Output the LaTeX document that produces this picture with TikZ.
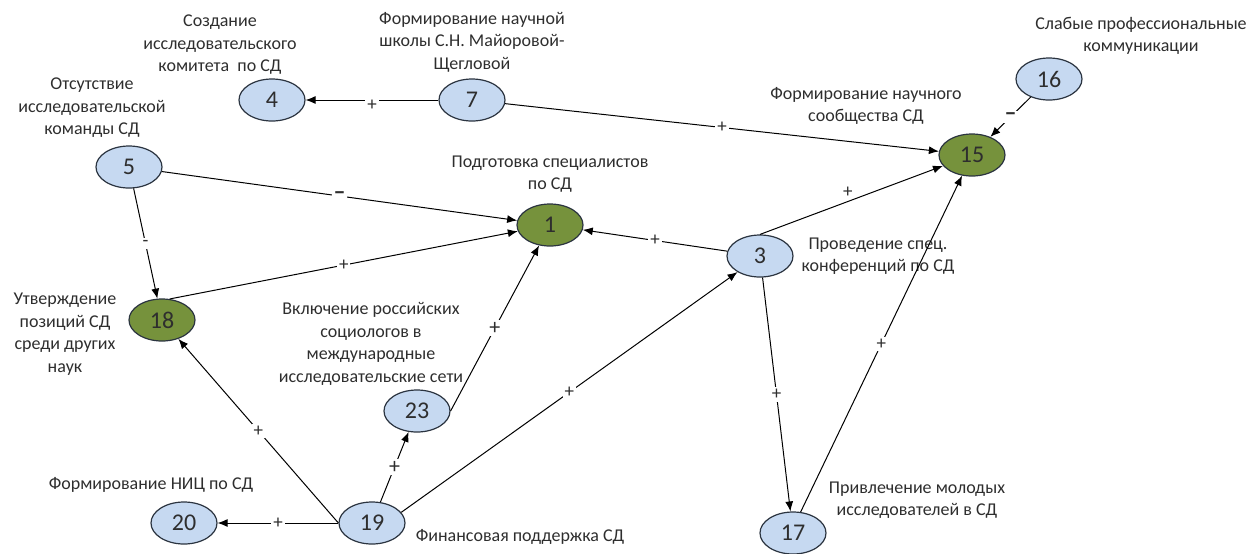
\documentclass[tikz,border=0pt]{standalone}
\usepackage{fontspec}
\setmainfont{Carlito}
\usetikzlibrary{arrows.meta,shapes.geometric}
\definecolor{nodeblue}{HTML}{C6D9F1}
\definecolor{nodegreen}{HTML}{76923C}
\definecolor{rim}{HTML}{2B3440}
\definecolor{ink}{HTML}{2E2E2E}
\tikzset{
  factor/.style={ellipse,draw=rim,fill=nodeblue,line width=0.6pt,
                 minimum width=33pt,minimum height=21pt,inner sep=0pt,
                 font=\fontsize{12}{12}\selectfont,text=ink},
  goal/.style={factor,fill=nodegreen},
  note/.style={align=center,font=\fontsize{9}{11.25}\selectfont,
               text=ink,inner sep=0pt},
  link/.style={-{Latex[length=5pt,width=4pt]},line width=0.5pt,black},
  sign/.style={fill=white,inner sep=1pt,pos=0.5,text=ink,
               font=\fontsize{9.5}{9.5}\selectfont},
  bigsign/.style={sign,font=\fontsize{11}{11}\selectfont},
  minus/.style={sign,font=\fontsize{12}{12}\selectfont\bfseries},
}

\begin{document}
\begin{tikzpicture}[x=0.5pt,y=-0.5pt]
  \useasboundingbox (0,0) rectangle (1255,553);

  % Factors (pixel grid, y downwards)
  \node[factor] (n4)  at (272,100) {4};
  \node[factor] (n7)  at (472,100) {7};
  \node[factor] (n5)  at (129,167) {5};
  \node[goal]   (n1)  at (550,225) {1};
  \node[goal]   (n15) at (972,155) {15};
  \node[factor] (n16) at (1049,79) {16};
  \node[factor] (n3)  at (760,256) {3};
  \node[goal]   (n18) at (162,320) {18};
  \node[factor] (n23) at (417,411) {23};
  \node[factor] (n19) at (372,523) {19};
  \node[factor] (n20) at (184,523) {20};
  \node[factor] (n17) at (793,533) {17};

  % Captions
  \node[note] (t4)  at (220,45)  {Создание\\исследовательского\\комитета~ по СД};
  \node[note] (t7)  at (472,42)  {Формирование научной\\школы С.Н. Майоровой-\\Щегловой};
  \node[note] (t5)  at (92,108)  {Отсутствие\\исследовательской\\команды СД};
  \node[note] (t1)  at (550,174) {Подготовка специалистов\\по СД};
  \node[note] (t15) at (866,106) {Формирование научного\\сообщества СД};
  \node[note] (t16) at (1141,36) {Слабые профессиональные\\коммуникации};
  \node[note] (t3)  at (878,256) {Проведение спец.\\конференций по СД};
  \node[note] (t18) at (65,334)  {Утверждение\\позиций СД\\среди других\\наук};
  \node[note] (t23) at (371,344) {Включение российских\\социологов в\\международные\\исследовательские сети};
  \node[note] (t20) at (151,485) {Формирование НИЦ по СД};
  \node[note] (t19) at (520,537) {Финансовая поддержка СД};
  \node[note] (t17) at (917,500) {Привлечение молодых\\исследователей в СД};

  % Links
  \draw[link] (n7) -- node[sign,yshift=-2.5pt]{+} (n4);
  \draw[link] (n7) -- node[sign]{+} (n15);
  \draw[link] (n16) -- node[minus]{–} (n15);
  \draw[link] (n5) -- node[minus]{–} (n1);
  \draw[link] (n5) -- node[sign]{-} (n18);
  \draw[link] (n18.70) -- node[sign]{+} (n1);
  \draw[link] (n3) -- node[sign]{+} (n1);
  \draw[link] (n3.north) -- node[sign,fill=none,above=1pt,pos=0.48]{+} (n15);
  \draw[link] (n17.70) -- node[sign]{+} (n15);
  \draw[link] (n3) -- node[sign]{+} (n17);
  \draw[link] (n23.east) -- node[bigsign]{+} (n1);
  \draw[link] (n19) -- node[bigsign]{+} (n23);
  \draw[link] (n19.west) -- node[sign]{+} (n18);
  \draw[link] (n19.20) -- node[sign]{+} (n3);
  \draw[link] (n19.west) -- node[sign]{+} (n20);
\end{tikzpicture}
\end{document}
